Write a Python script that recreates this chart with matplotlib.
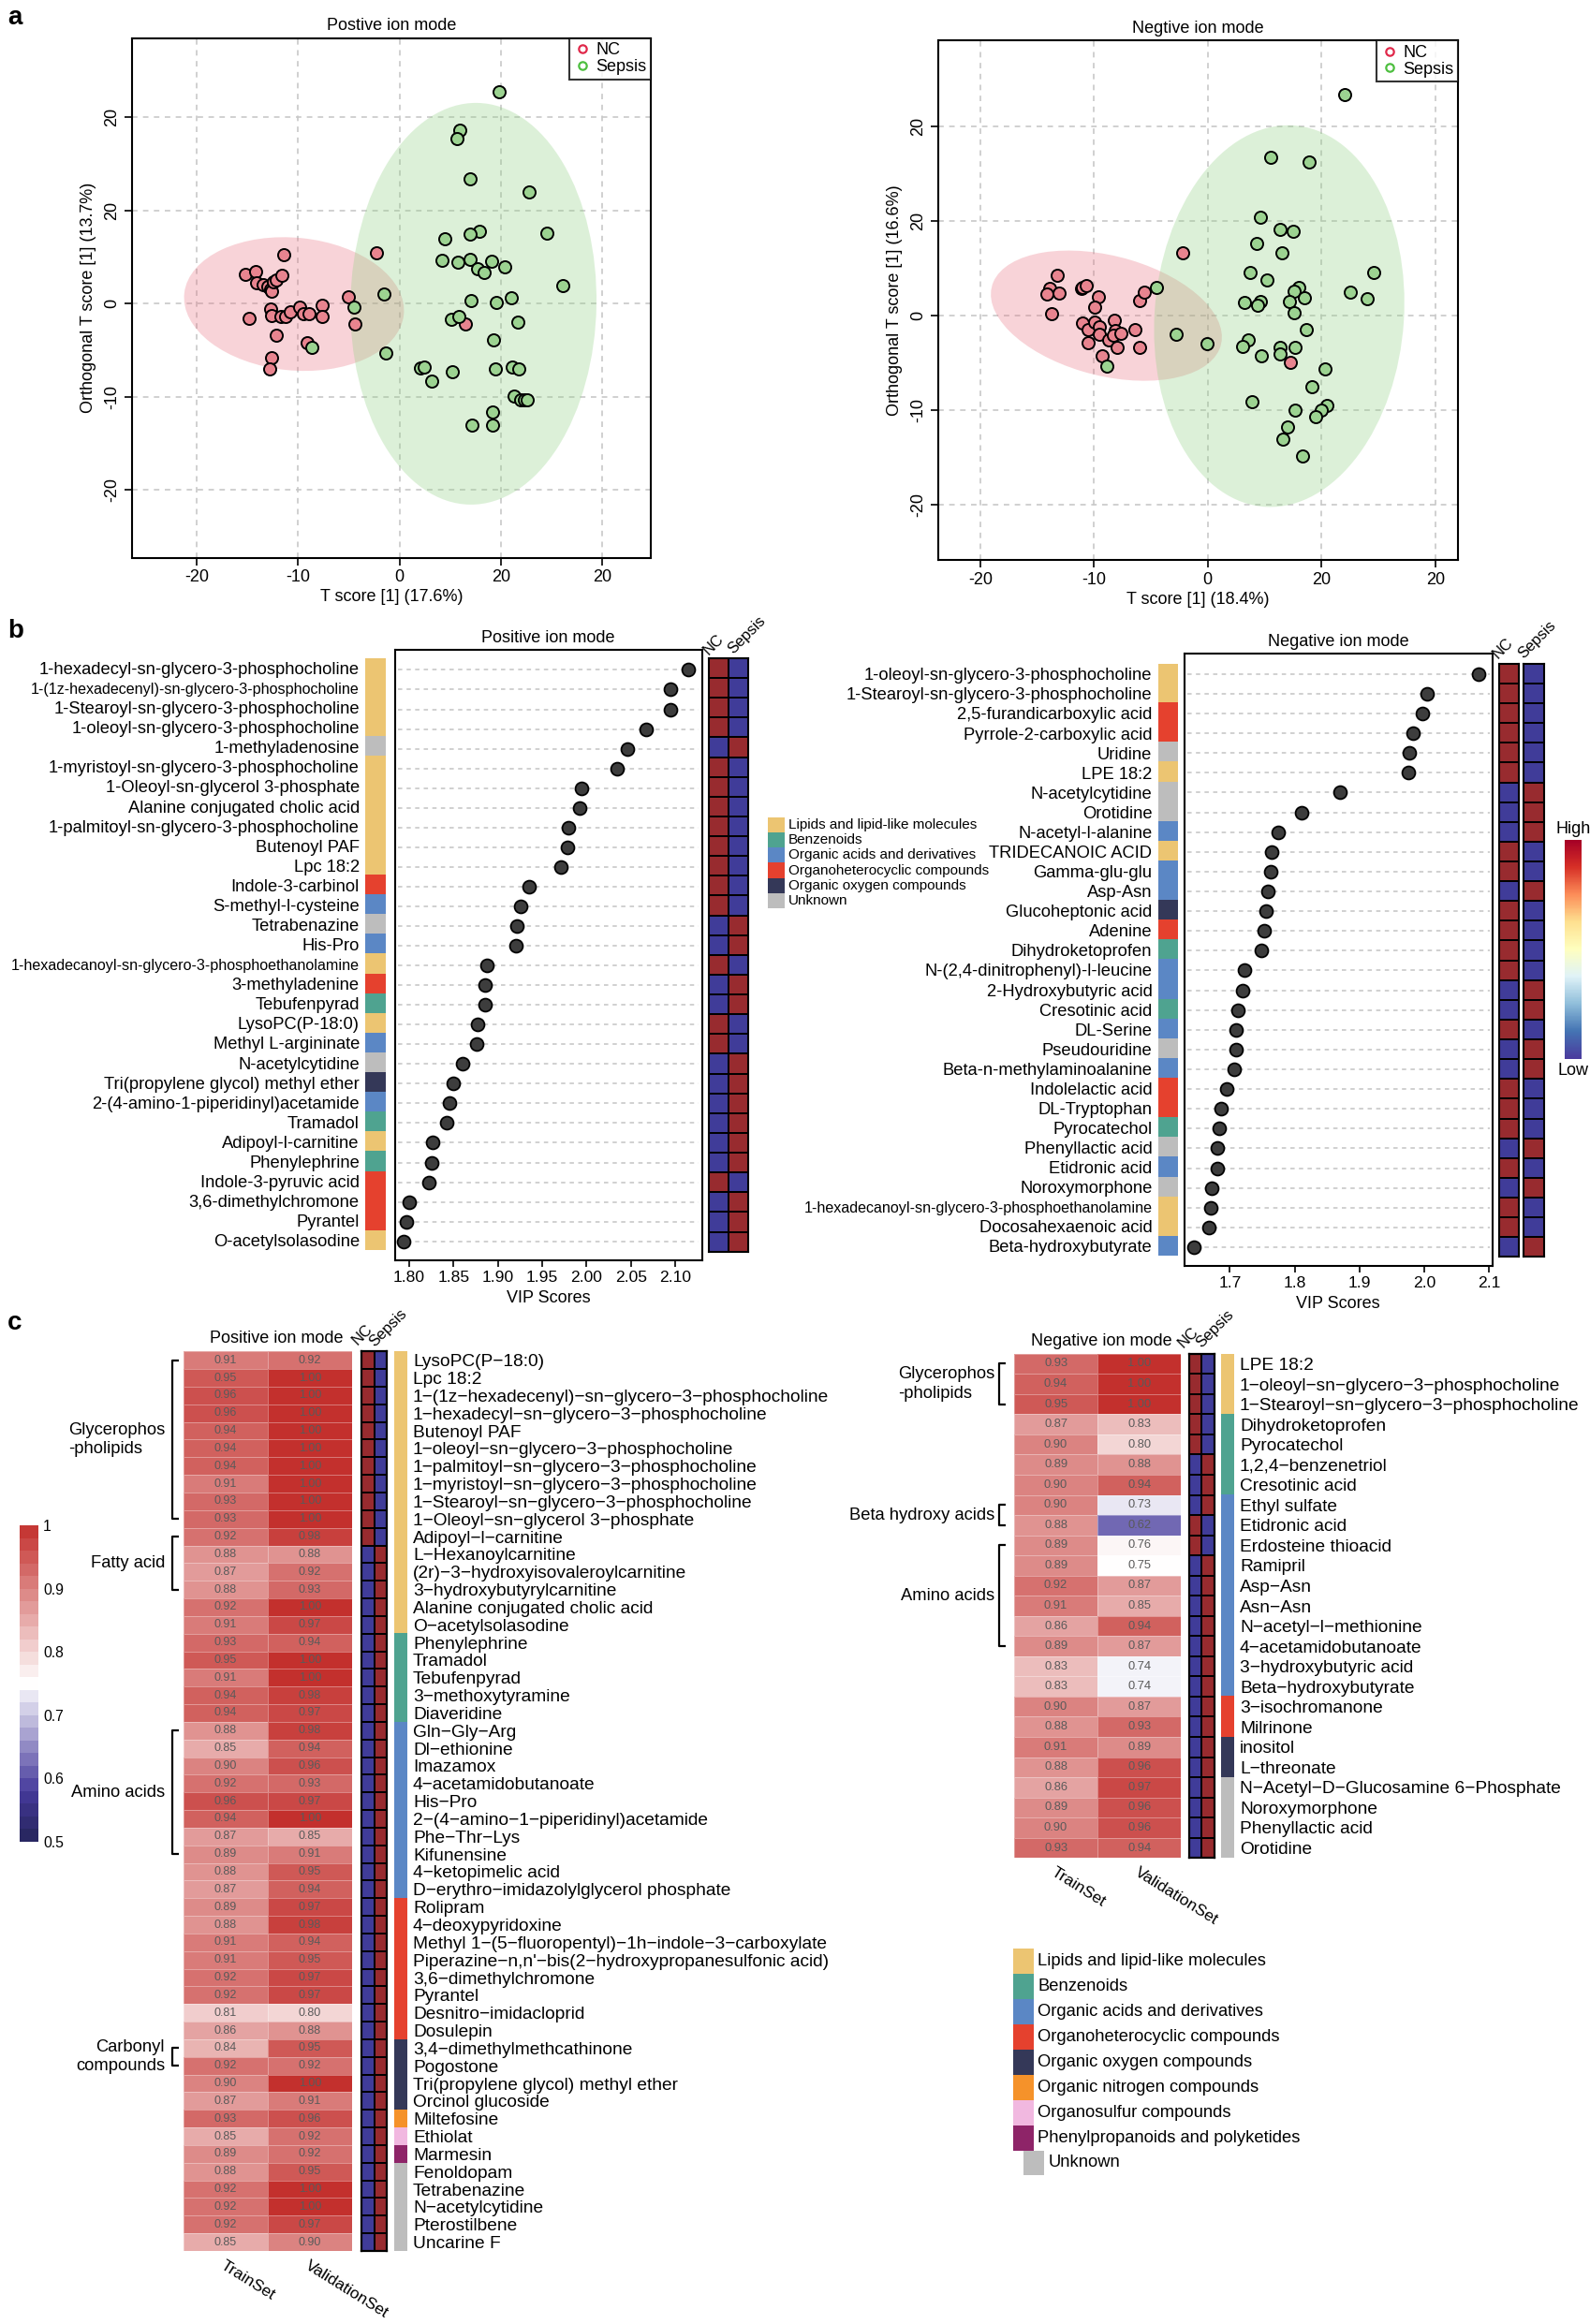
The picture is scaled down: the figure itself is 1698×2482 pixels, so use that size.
import numpy as np
import matplotlib
matplotlib.use("Agg")
import matplotlib.pyplot as plt
from matplotlib.patches import Ellipse, Rectangle
from matplotlib.lines import Line2D
from matplotlib.colors import ListedColormap, LinearSegmentedColormap, BoundaryNorm

plt.rcParams['font.family'] = ['Liberation Sans', 'DejaVu Sans']
plt.rcParams['axes.unicode_minus'] = False

# ======================= DATA =======================
# ---- panel a : OPLS-DA scores ----
pos_nc_t = [-15.2, -14.2, -14.1, -13.4, -13.0, -12.7, -12.6, -12.4, -12.1, -11.6, -11.4, -14.8, -12.7, -12.6, -11.7,
            -11.2, -10.8, -9.8, -9.5, -8.9, -9.1, -7.6, -7.6, -12.1, -12.6, -12.8, -5.0, -4.4, -2.3, 6.5]
pos_nc_o = [3.1, 3.4, 2.2, 2.0, 1.8, 1.5, 1.3, 2.3, 2.5, 3.0, 5.2, -1.6, -0.6, -1.3, -1.4,
            -1.4, -0.9, -0.4, -1.1, -1.1, -4.2, -0.2, -1.4, -3.4, -5.8, -7.0, 0.7, -2.2, 5.4, -2.2]
pos_sp_t = [9.8, 6.0, 5.7, 7.0, 12.8, 7.9, 7.0, 4.5, 14.5, 4.2, 5.8, 7.0, 7.7, 8.4, 9.1, 10.4, 16.1, 11.0, 7.1, 9.6,
            -1.5, -4.5, 5.1, 5.9, 11.7, 9.3, -8.6, -1.3, 2.1, 2.4, 3.2, 5.2, 9.5, 11.1, 11.8, 11.3, 12.0, 12.3, 12.6,
            9.2, 9.2, 7.2]
pos_sp_o = [22.7, 18.6, 17.7, 13.4, 12.0, 7.8, 7.5, 7.0, 7.6, 4.6, 4.4, 4.7, 3.7, 3.3, 4.5, 3.9, 1.9, 0.6, 0.3, 0.1,
            1.0, -0.4, -1.7, -1.4, -2.0, -3.9, -4.7, -5.3, -6.9, -6.8, -8.3, -7.3, -7.0, -6.8, -7.0, -9.9, -10.4, -10.4,
            -10.4, -11.7, -13.1, -13.1]
neg_nc_t = [-13.2, -13.9, -14.1, -13.1, -13.7, -11.1, -11.0, -10.7, -9.6, -9.9, -11.0, -10.5, -10.5, -9.9, -9.5,
            -9.5, -8.7, -9.3, -8.2, -8.1, -8.3, -8.0, -7.6, -6.4, -6.0, -5.6, -6.0, -2.2, 7.3]
neg_nc_o = [4.3, 2.9, 2.3, 2.4, 0.2, 2.9, 3.0, 3.2, 2.0, 0.9, -0.8, -1.4, -2.8, -0.7, -1.2,
            -1.9, -2.5, -4.2, -0.5, -1.5, -2.0, -3.3, -1.8, -1.4, 1.6, 2.5, -3.3, 6.7, -4.9]
neg_sp_t = [12.0, 5.5, 8.9, 4.6, 6.4, 7.5, 4.3, 6.5, 3.7, 5.2, 14.6, 8.0, 7.6, 12.5, 14.0, 8.5, 7.2, 3.2, 4.6, 4.4,
            7.6, -4.5, -2.8, -0.1, 8.7, 3.6, 3.1, 6.4, 7.7, 6.4, 4.7, -8.9, 10.3, 9.2, 3.9, 7.7, 10.5, 10.0, 9.5,
            7.0, 6.6, 8.3]
neg_sp_o = [23.4, 16.8, 16.3, 10.4, 9.1, 8.9, 7.7, 6.7, 4.6, 3.8, 4.6, 3.0, 2.6, 2.5, 1.8, 1.9, 1.5, 1.4, 1.5, 1.1,
            0.3, 3.0, -1.9, -2.9, -1.4, -2.5, -3.2, -3.3, -3.3, -4.0, -4.2, -5.3, -5.6, -7.5, -9.1, -10.0, -9.5,
            -10.0, -10.7, -11.7, -13.0, -14.8]
score_ticks = [-20, -10, 0, 10, 20]
score_ticklabels = ['-20', '-10', '0', '20', '20']

# ---- panel b : VIP ----
pos_b_names = ["1-hexadecyl-sn-glycero-3-phosphocholine", "1-(1z-hexadecenyl)-sn-glycero-3-phosphocholine",
               "1-Stearoyl-sn-glycero-3-phosphocholine", "1-oleoyl-sn-glycero-3-phosphocholine", "1-methyladenosine",
               "1-myristoyl-sn-glycero-3-phosphocholine", "1-Oleoyl-sn-glycerol 3-phosphate",
               "Alanine conjugated cholic acid", "1-palmitoyl-sn-glycero-3-phosphocholine", "Butenoyl PAF",
               "Lpc 18:2", "Indole-3-carbinol", "S-methyl-l-cysteine", "Tetrabenazine", "His-Pro",
               "1-hexadecanoyl-sn-glycero-3-phosphoethanolamine", "3-methyladenine", "Tebufenpyrad",
               "LysoPC(P-18:0)", "Methyl L-argininate", "N-acetylcytidine", "Tri(propylene glycol) methyl ether",
               "2-(4-amino-1-piperidinyl)acetamide", "Tramadol", "Adipoyl-l-carnitine", "Phenylephrine",
               "Indole-3-pyruvic acid", "3,6-dimethylchromone", "Pyrantel", "O-acetylsolasodine"]
pos_b_vip = [2.115, 2.095, 2.095, 2.067, 2.046, 2.034, 1.994, 1.992, 1.980, 1.978, 1.971, 1.935, 1.926, 1.921,
             1.920, 1.888, 1.886, 1.886, 1.877, 1.876, 1.860, 1.850, 1.845, 1.842, 1.826, 1.825, 1.822, 1.800,
             1.797, 1.794]
pos_b_cat = ['L', 'L', 'L', 'L', 'U', 'L', 'L', 'L', 'L', 'L', 'L', 'H', 'A', 'U', 'A', 'L', 'H', 'B', 'L', 'A',
             'U', 'O', 'A', 'B', 'L', 'B', 'H', 'H', 'H', 'L']
pos_b_nc_high = [1, 1, 1, 1, 0, 1, 1, 1, 1, 1, 1, 1, 1, 0, 0, 1, 0, 0, 1, 1, 0, 0, 0, 0, 0, 0, 1, 0, 0, 0]

neg_b_names = ["1-oleoyl-sn-glycero-3-phosphocholine", "1-Stearoyl-sn-glycero-3-phosphocholine",
               "2,5-furandicarboxylic acid", "Pyrrole-2-carboxylic acid", "Uridine", "LPE 18:2", "N-acetylcytidine",
               "Orotidine", "N-acetyl-l-alanine", "TRIDECANOIC ACID", "Gamma-glu-glu", "Asp-Asn",
               "Glucoheptonic acid", "Adenine", "Dihydroketoprofen", "N-(2,4-dinitrophenyl)-l-leucine",
               "2-Hydroxybutyric acid", "Cresotinic acid", "DL-Serine", "Pseudouridine",
               "Beta-n-methylaminoalanine", "Indolelactic acid", "DL-Tryptophan", "Pyrocatechol",
               "Phenyllactic acid", "Etidronic acid", "Noroxymorphone",
               "1-hexadecanoyl-sn-glycero-3-phosphoethanolamine", "Docosahexaenoic acid", "Beta-hydroxybutyrate"]
neg_b_vip = [2.084, 2.004, 1.997, 1.982, 1.977, 1.975, 1.870, 1.810, 1.774, 1.765, 1.763, 1.759, 1.756, 1.753,
             1.748, 1.723, 1.720, 1.712, 1.710, 1.709, 1.707, 1.695, 1.687, 1.683, 1.680, 1.680, 1.672, 1.670,
             1.668, 1.645]
neg_b_cat = ['L', 'L', 'H', 'H', 'U', 'L', 'U', 'U', 'A', 'L', 'A', 'A', 'O', 'H', 'B', 'A', 'A', 'B', 'A', 'U',
             'A', 'H', 'H', 'B', 'U', 'A', 'U', 'L', 'L', 'A']
neg_b_nc_high = [1, 1, 1, 1, 1, 1, 0, 0, 0, 1, 1, 0, 1, 1, 1, 1, 0, 0, 1, 0, 0, 1, 1, 1, 0, 1, 0, 1, 1, 0]

# ---- panel c : AUC heatmaps ----
pos_c_names = ["LysoPC(P-18:0)", "Lpc 18:2", "1-(1z-hexadecenyl)-sn-glycero-3-phosphocholine",
               "1-hexadecyl-sn-glycero-3-phosphocholine", "Butenoyl PAF", "1-oleoyl-sn-glycero-3-phosphocholine",
               "1-palmitoyl-sn-glycero-3-phosphocholine", "1-myristoyl-sn-glycero-3-phosphocholine",
               "1-Stearoyl-sn-glycero-3-phosphocholine", "1-Oleoyl-sn-glycerol 3-phosphate", "Adipoyl-l-carnitine",
               "L-Hexanoylcarnitine", "(2r)-3-hydroxyisovaleroylcarnitine", "3-hydroxybutyrylcarnitine",
               "Alanine conjugated cholic acid", "O-acetylsolasodine", "Phenylephrine", "Tramadol", "Tebufenpyrad",
               "3-methoxytyramine", "Diaveridine", "Gln-Gly-Arg", "Dl-ethionine", "Imazamox",
               "4-acetamidobutanoate", "His-Pro", "2-(4-amino-1-piperidinyl)acetamide", "Phe-Thr-Lys",
               "Kifunensine", "4-ketopimelic acid", "D-erythro-imidazolylglycerol phosphate", "Rolipram",
               "4-deoxypyridoxine", "Methyl 1-(5-fluoropentyl)-1h-indole-3-carboxylate",
               "Piperazine-n,n'-bis(2-hydroxypropanesulfonic acid)", "3,6-dimethylchromone", "Pyrantel",
               "Desnitro-imidacloprid", "Dosulepin", "3,4-dimethylmethcathinone", "Pogostone",
               "Tri(propylene glycol) methyl ether", "Orcinol glucoside", "Miltefosine", "Ethiolat", "Marmesin",
               "Fenoldopam", "Tetrabenazine", "N-acetylcytidine", "Pterostilbene", "Uncarine F"]
pos_c_train = [0.91, 0.95, 0.96, 0.96, 0.94, 0.94, 0.94, 0.91, 0.93, 0.93,
               0.92, 0.88, 0.87, 0.88, 0.92, 0.91, 0.93, 0.95, 0.91, 0.94,
               0.94, 0.88, 0.85, 0.90, 0.92, 0.96, 0.94, 0.87, 0.89, 0.88,
               0.87, 0.89, 0.88, 0.91, 0.91, 0.92, 0.92, 0.81, 0.86, 0.84,
               0.92, 0.90, 0.87, 0.93, 0.85, 0.89, 0.88, 0.92, 0.92, 0.92, 0.85]
pos_c_valid = [0.92, 1.00, 1.00, 1.00, 1.00, 1.00, 1.00, 1.00, 1.00, 1.00,
               0.98, 0.88, 0.92, 0.93, 1.00, 0.97, 0.94, 1.00, 1.00, 0.98,
               0.97, 0.98, 0.94, 0.96, 0.93, 0.97, 1.00, 0.85, 0.91, 0.95,
               0.94, 0.97, 0.98, 0.94, 0.95, 0.97, 0.97, 0.80, 0.88, 0.95,
               0.92, 1.00, 0.91, 0.96, 0.92, 0.92, 0.95, 1.00, 1.00, 0.97, 0.90]
pos_c_cat = ['L'] * 16 + ['B'] * 5 + ['A'] * 10 + ['H'] * 8 + ['O'] * 4 + ['N', 'S', 'P'] + ['U'] * 5
pos_c_nc_high = [1] * 11 + [0] * 40
pos_c_groups = [("Glycerophos\n-pholipids", 0, 9, 'left'), ("Fatty acid", 10, 13, 'right'),
                ("Amino acids", 21, 28, 'right'), ("Carbonyl\ncompounds", 39, 40, 'right')]

neg_c_names = ["LPE 18:2", "1-oleoyl-sn-glycero-3-phosphocholine", "1-Stearoyl-sn-glycero-3-phosphocholine",
               "Dihydroketoprofen", "Pyrocatechol", "1,2,4-benzenetriol", "Cresotinic acid", "Ethyl sulfate",
               "Etidronic acid", "Erdosteine thioacid", "Ramipril", "Asp-Asn", "Asn-Asn", "N-acetyl-l-methionine",
               "4-acetamidobutanoate", "3-hydroxybutyric acid", "Beta-hydroxybutyrate", "3-isochromanone",
               "Milrinone", "inositol", "L-threonate", "N-Acetyl-D-Glucosamine 6-Phosphate", "Noroxymorphone",
               "Phenyllactic acid", "Orotidine"]
neg_c_train = [0.93, 0.94, 0.95, 0.87, 0.90, 0.89, 0.90, 0.90, 0.88, 0.89, 0.89, 0.92, 0.91, 0.86, 0.89,
               0.83, 0.83, 0.90, 0.88, 0.91, 0.88, 0.86, 0.89, 0.90, 0.93]
neg_c_valid = [1.00, 1.00, 1.00, 0.83, 0.80, 0.88, 0.94, 0.73, 0.62, 0.76, 0.75, 0.87, 0.85, 0.94, 0.87,
               0.74, 0.74, 0.87, 0.93, 0.89, 0.96, 0.97, 0.96, 0.96, 0.94]
neg_c_cat = ['L'] * 3 + ['B'] * 4 + ['A'] * 10 + ['H'] * 2 + ['O'] * 2 + ['U'] * 4
neg_c_nc_high = [1, 1, 1, 1, 1, 0, 0, 0, 1, 1] + [0] * 15
neg_c_groups = [("Glycerophos\n-pholipids", 0, 2, 'left'), ("Beta hydroxy acids", 7, 8, 'right'),
                ("Amino acids", 9, 14, 'right')]

cat_codes = ['L', 'B', 'A', 'H', 'O', 'N', 'S', 'P', 'U']
cat_names = ["Lipids and lipid-like molecules", "Benzenoids", "Organic acids and derivatives",
             "Organoheterocyclic compounds", "Organic oxygen compounds", "Organic nitrogen compounds",
             "Organosulfur compounds", "Phenylpropanoids and polyketides", "Unknown"]
b_legend_codes = ['L', 'B', 'A', 'H', 'O', 'U']

# ======================= STYLE =======================
cat_colors = {'L': '#ECC572', 'B': '#4FA390', 'A': '#5B87C5', 'H': '#E5412E', 'O': '#343858',
              'N': '#F5922A', 'S': '#F1B8E0', 'P': '#8E2468', 'U': '#BDBDBD'}
cat_cmap = ListedColormap([cat_colors[c] for c in cat_codes])
cat_norm = BoundaryNorm(np.arange(-0.5, len(cat_codes) + 0.5), len(cat_codes))
HI, LO = '#982B2F', '#403C99'
bin_cmap = ListedColormap([LO, HI])
auc_cmap = LinearSegmentedColormap.from_list(
    'auc', [(0.0, '#25245A'), (0.16, '#463A9C'), (0.5, '#FFFFFF'), (1.0, '#C3302D')])
vip_cbar_cmap = LinearSegmentedColormap.from_list(
    'vipc', ['#4B3C9E', '#4575B4', '#91BFDB', '#E0F3F8', '#FFFFBF', '#FEE090', '#FC8D59', '#D73027', '#A50026'])
NC_FILL, SP_FILL = '#E8848F', '#9CD391'
NC_ELL, SP_ELL = '#E8707F', '#8ED081'

W, H = 1698, 2482
fig = plt.figure(figsize=(W / 100, H / 100), dpi=100)


def px_ax(l, t, r, b, **kw):
    return fig.add_axes([l / W, 1 - b / H, (r - l) / W, (b - t) / H], **kw)


def add_ellipse(ax, x, y, color):
    x = np.asarray(x, float)
    y = np.asarray(y, float)
    cov = np.cov(x, y)
    vals, vecs = np.linalg.eigh(cov)
    order = vals.argsort()[::-1]
    vals, vecs = vals[order], vecs[:, order]
    ang = np.degrees(np.arctan2(vecs[1, 0], vecs[0, 0]))
    k = np.sqrt(5.991)
    e = Ellipse((x.mean(), y.mean()), 2 * k * np.sqrt(vals[0]), 2 * k * np.sqrt(vals[1]), angle=ang,
                facecolor=color, alpha=0.3, edgecolor='none', zorder=1)
    ax.add_patch(e)


def score_panel(box, nc_t, nc_o, sp_t, sp_o, xlim, ylim, title, xlabel, ylabel):
    ax = px_ax(*box)
    add_ellipse(ax, nc_t, nc_o, NC_ELL)
    add_ellipse(ax, sp_t, sp_o, SP_ELL)
    ax.scatter(nc_t, nc_o, s=88, facecolor=NC_FILL, edgecolor='black', linewidth=1.4, zorder=3)
    ax.scatter(sp_t, sp_o, s=88, facecolor=SP_FILL, edgecolor='black', linewidth=1.4, zorder=3)
    ax.set_xlim(*xlim)
    ax.set_ylim(*ylim)
    ax.set_xticks(score_ticks)
    ax.set_xticklabels(score_ticklabels, fontsize=13)
    ax.set_yticks(score_ticks)
    ax.set_yticklabels(score_ticklabels, fontsize=13, rotation=90, va='center')
    ax.tick_params(length=6, width=1.2, pad=3)
    ax.grid(True, color='#c8c8c8', lw=1.2, ls=(0, (3.5, 3.5)))
    ax.set_axisbelow(True)
    for s in ax.spines.values():
        s.set_linewidth(1.5)
    ax.set_title(title, fontsize=13, pad=6)
    ax.set_xlabel(xlabel, fontsize=13, labelpad=3)
    ax.set_ylabel(ylabel, fontsize=13, labelpad=6)
    handles = [Line2D([], [], ls='', marker='o', mfc='none', mec='#E0284A', mew=1.6, ms=6),
               Line2D([], [], ls='', marker='o', mfc='none', mec='#4DBF3F', mew=1.6, ms=6)]
    leg = ax.legend(handles, ['NC', 'Sepsis'], loc='upper right', bbox_to_anchor=(1, 1), borderaxespad=0,
                    fontsize=13, frameon=True, fancybox=False, edgecolor='black', handletextpad=0.3,
                    labelspacing=0.05, borderpad=0.25, handlelength=1.0)
    leg.get_frame().set_linewidth(1.5)
    leg.set_zorder(5)
    return ax


score_panel((140.6, 40.8, 695.1, 595.5), pos_nc_t, pos_nc_o, pos_sp_t, pos_sp_o, (-26.4, 24.8), (-27.3, 28.5),
            'Postive ion mode', 'T score [1] (17.6%)', 'Orthogonal T score [1] (13.7%)')
score_panel((1001.8, 43.4, 1557.0, 598.0), neg_nc_t, neg_nc_o, neg_sp_t, neg_sp_o, (-23.7, 22.0), (-25.8, 29.1),
            'Negtive ion mode', 'T score [1] (18.4%)', 'Orthogonal T score [1] (16.6%)')

small_b = {"1-(1z-hexadecenyl)-sn-glycero-3-phosphocholine", "1-hexadecanoyl-sn-glycero-3-phosphoethanolamine"}


def vip_panel(dot_box, ypad, strip_box, heat_boxes, names, vip, cats, nc_high, xlim, xticks, xticklabels,
              title):
    n = len(names)
    rows = np.arange(n)
    ax = px_ax(*dot_box)
    ax.hlines(rows, xlim[0] + 0.004, xlim[1] - 0.004, colors='#c4c4c4', linestyles=(0, (3, 3)), lw=1.1,
              zorder=1)
    ax.scatter(vip, rows, s=100, facecolor='#3d3d3d', edgecolor='black', linewidth=1.3, zorder=3)
    ax.set_xlim(*xlim)
    ax.set_ylim(n - 1 + ypad[1], -ypad[0])
    ax.set_yticks([])
    ax.set_xticks(xticks)
    ax.set_xticklabels(xticklabels, fontsize=12.6)
    ax.tick_params(axis='x', length=5, width=1.2, pad=3)
    for s in ax.spines.values():
        s.set_linewidth(1.5)
    ax.set_title(title, fontsize=13, pad=6)
    ax.set_xlabel('VIP Scores', fontsize=13, labelpad=4)

    sx = px_ax(*strip_box)
    idx = np.array([cat_codes.index(c) for c in cats])
    sx.imshow(idx[:, None], cmap=cat_cmap, norm=cat_norm, aspect='auto', interpolation='nearest',
              extent=(0, 1, n - 0.5, -0.5))
    sx.set_xlim(0, 1)
    sx.set_ylim(n - 0.5, -0.5)
    sx.set_xticks([])
    sx.set_yticks(rows)
    sx.set_yticklabels(names, fontsize=13.2)
    for lab, nm in zip(sx.get_yticklabels(), names):
        if nm in small_b:
            lab.set_fontsize(11.6)
    sx.tick_params(axis='y', length=0, pad=4.5)
    for s in sx.spines.values():
        s.set_visible(False)

    hv = np.array(nc_high)
    mat = np.column_stack([hv, 1 - hv])
    if len(heat_boxes) == 1:
        hx = px_ax(*heat_boxes[0])
        hx.pcolormesh(np.arange(3), np.arange(n + 1), mat, cmap=bin_cmap, vmin=0, vmax=1,
                      edgecolors='black', linewidth=1.2)
        hx.set_xlim(0, 2)
        hx.set_ylim(n, 0)
        hx.set_xticks([])
        hx.set_yticks([])
        for s in hx.spines.values():
            s.set_linewidth(1.5)
    else:
        for j, bx in enumerate(heat_boxes):
            hx = px_ax(*bx)
            hx.pcolormesh(np.arange(2), np.arange(n + 1), mat[:, j:j + 1], cmap=bin_cmap, vmin=0, vmax=1,
                          edgecolors='black', linewidth=1.2)
            hx.set_xlim(0, 1)
            hx.set_ylim(n, 0)
            hx.set_xticks([])
            hx.set_yticks([])
            for s in hx.spines.values():
                s.set_linewidth(1.5)


vip_panel((421.7, 694.4, 749.6, 1346.3), (1.0, 0.98), (390.2, 703.0, 411.9, 1335.3),
          [(757.2, 703.0, 798.9, 1336.7)], pos_b_names, pos_b_vip, pos_b_cat, pos_b_nc_high,
          (1.784, 2.130), [1.80, 1.85, 1.90, 1.95, 2.00, 2.05, 2.10],
          ['1.80', '1.85', '1.90', '1.95', '2.00', '2.05', '2.10'], 'Positive ion mode')
vip_panel((1264.8, 698.3, 1593.6, 1352.0), (1.02, 0.95), (1236.7, 709.3, 1257.2, 1341.5),
          [(1600.7, 708.8, 1621.8, 1342.4), (1627.2, 708.8, 1648.8, 1342.4)], neg_b_names, neg_b_vip,
          neg_b_cat, neg_b_nc_high, (1.6297, 2.1047), [1.7, 1.8, 1.9, 2.0, 2.1],
          ['1.7', '1.8', '1.9', '2.0', '2.1'], 'Negative ion mode')

# colour bar for panel b (High / Low)
cbx = px_ax(1671, 896.7, 1688.3, 1131)
cbx.imshow(np.linspace(1, 0, 200)[:, None], cmap=vip_cbar_cmap, aspect='auto', extent=(0, 1, 0, 1))
cbx.set_xticks([])
cbx.set_yticks([])
for s in cbx.spines.values():
    s.set_visible(False)


def auc_panel(heat_box, ncsp_box, strip_box, names, train, valid, cats, nc_high, val_fs, lab_fs):
    n = len(names)
    data = np.column_stack([train, valid])
    ax = px_ax(*heat_box)
    ax.pcolormesh(np.arange(3), np.arange(n + 1), data, cmap=auc_cmap, vmin=0.5, vmax=1.0,
                  edgecolors=(1, 1, 1, 0.35), linewidth=0.6)
    for i in range(n):
        for j in range(2):
            ax.text(j + 0.5, i + 0.5, f"{data[i, j]:.2f}", ha='center', va='center', fontsize=val_fs,
                    color='#5a5a5a')
    ax.set_xlim(0, 2)
    ax.set_ylim(n, 0)
    ax.axis('off')

    hv = np.array(nc_high)
    mat = np.column_stack([hv, 1 - hv])
    hx = px_ax(*ncsp_box)
    hx.pcolormesh(np.arange(3), np.arange(n + 1), mat, cmap=bin_cmap, vmin=0, vmax=1,
                  edgecolors='black', linewidth=1.4)
    hx.set_xlim(0, 2)
    hx.set_ylim(n, 0)
    hx.set_xticks([])
    hx.set_yticks([])
    for s in hx.spines.values():
        s.set_linewidth(1.6)

    sx = px_ax(*strip_box)
    idx = np.array([cat_codes.index(c) for c in cats])
    sx.imshow(idx[:, None], cmap=cat_cmap, norm=cat_norm, aspect='auto', interpolation='nearest',
              extent=(0, 1, n - 0.5, -0.5))
    sx.set_xlim(0, 1)
    sx.set_ylim(n - 0.5, -0.5)
    sx.set_xticks([])
    sx.yaxis.tick_right()
    sx.set_yticks(np.arange(n))
    sx.set_yticklabels([nm.replace('-', '\u2212') for nm in names], fontsize=lab_fs)
    sx.tick_params(axis='y', length=0, pad=5)
    for s in sx.spines.values():
        s.set_visible(False)


auc_panel((195.8, 1443.3, 376.0, 2404.0), (386.3, 1443.3, 413.3, 2404.0), (420.8, 1443.3, 434.0, 2404.0),
          pos_c_names, pos_c_train, pos_c_valid, pos_c_cat, pos_c_nc_high, 9, 13.8)
auc_panel((1083.0, 1445.7, 1261.4, 1984.3), (1269.6, 1445.7, 1296.7, 1984.3), (1303.5, 1445.7, 1317.0, 1984.3),
          neg_c_names, neg_c_train, neg_c_valid, neg_c_cat, neg_c_nc_high, 9.3, 13.8)

# colour bar for panel c
ccb = px_ax(21.2, 1629.3, 41.3, 1966.7)
lev = np.linspace(0.5, 1.0, 26)
ccb.pcolormesh([0, 1], lev, (lev[:-1] + 0.01)[:, None], cmap=auc_cmap, vmin=0.5, vmax=1.0)
ccb.set_xlim(0, 1)
ccb.set_ylim(0.5, 1.0)
ccb.set_xticks([])
ccb.yaxis.tick_right()
ccb.set_yticks([0.5, 0.6, 0.7, 0.8, 0.9, 1.0])
ccb.set_yticklabels(['0.5', '0.6', '0.7', '0.8', '0.9', '1'], fontsize=11.3)
ccb.tick_params(axis='y', length=0, pad=3.5)
for s in ccb.spines.values():
    s.set_visible(False)

# ======================= overlay texts =======================
ov = fig.add_axes([0, 0, 1, 1], zorder=10)
ov.set_xlim(0, W)
ov.set_ylim(H, 0)
ov.axis('off')
ov.patch.set_visible(False)

for letter, (x, y) in zip('abc', [(8, 19), (8, 674), (8, 1413)]):
    ov.text(x, y, letter, fontsize=20, fontweight='bold', ha='left', va='center')

# NC / Sepsis rotated headers
for (x, y, s) in [(758.8, 702, 'NC'), (785.6, 700.6, 'Sepsis'), (1601.8, 706, 'NC'), (1628.8, 706, 'Sepsis'),
                  (383.5, 1439.3, 'NC'), (402.7, 1440.7, 'Sepsis'), (1266, 1442, 'NC'), (1285, 1442, 'Sepsis')]:
    ov.text(x, y, s, fontsize=12, rotation=45, rotation_mode='anchor', ha='left', va='bottom')

ov.text(1680, 885.7, 'High', fontsize=13, ha='center', va='center')
ov.text(1680, 1143, 'Low', fontsize=13, ha='center', va='center')

# panel b category legend
for k, code in enumerate(b_legend_codes):
    y0 = 872.7 + k * 16.2
    ov.add_patch(Rectangle((820, y0), 18.3, 16.2, facecolor=cat_colors[code], edgecolor='none'))
    ov.text(841.7, y0 + 8.4, cat_names[cat_codes.index(code)], fontsize=11, ha='left', va='center')

# panel c titles
ov.text(295.6, 1430, 'Positive ion mode', fontsize=13, ha='center', va='center')
ov.text(1175.9, 1432.3, 'Negative ion mode', fontsize=13, ha='center', va='center')

# TrainSet / ValidationSet
for (x, y, s) in [(240.9, 2412, 'TrainSet'), (331.0, 2412, 'ValidationSet'),
                  (1127.8, 1992, 'TrainSet'), (1217.0, 1992, 'ValidationSet')]:
    ov.text(x, y, s, fontsize=12.5, rotation=-32, rotation_mode='anchor', ha='left', va='top')


def brackets(groups, top, pitch, xline, xlabel_right):
    for (lab, r0, r1, malign) in groups:
        y0 = top + (r0 + 0.5) * pitch
        y1 = top + (r1 + 0.5) * pitch
        ov.plot([xline + 7, xline, xline, xline + 7], [y0, y0, y1, y1], color='black', lw=1.6,
                solid_capstyle='butt')
        ov.text(xlabel_right, (y0 + y1) / 2, lab, fontsize=13.2, ha='right', va='center', multialignment=malign,
                linespacing=1.25)


brackets(pos_c_groups, 1443.3, (2404.0 - 1443.3) / len(pos_c_names), 184.0, 176.0)
brackets(neg_c_groups, 1445.7, (1984.3 - 1445.7) / len(neg_c_names), 1067.0, 1062.0)

# panel c category legend
for k in range(8):
    y0 = 2080.7 + k * 27.0
    ov.add_patch(Rectangle((1082, y0), 21.7, 27.0, facecolor=cat_colors[cat_codes[k]], edgecolor='none'))
    ov.text(1108.3, y0 + 13.5, cat_names[k], fontsize=13.2, ha='left', va='center')
ov.add_patch(Rectangle((1093, 2296.7), 21.7, 26.0, facecolor=cat_colors['U'], edgecolor='none'))
ov.text(1119.3, 2309.7, cat_names[8], fontsize=13.2, ha='left', va='center')

fig.savefig('out.png', dpi=100)
